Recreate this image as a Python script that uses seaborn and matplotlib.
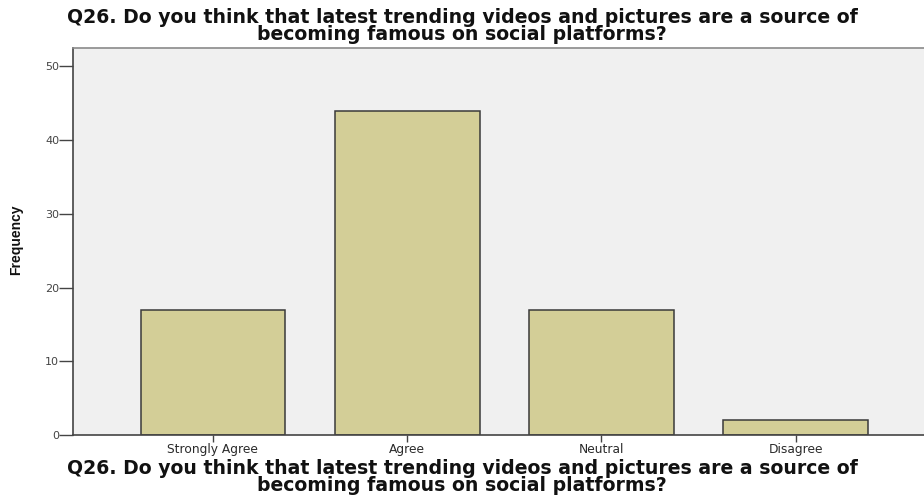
import numpy as np
import pandas as pd
import matplotlib
matplotlib.use("Agg")
import matplotlib.pyplot as plt
import seaborn as sns

question = "Q26. Do you think that latest trending videos and pictures are a source of\nbecoming famous on social platforms?"
categories = ["Strongly Agree", "Agree", "Neutral", "Disagree"]
frequency = [17, 44, 17, 2]
y_ticks = [0, 10, 20, 30, 40, 50]

df = pd.DataFrame({"answer": categories, "count": frequency})

sns.set_style("white")
plt.rcParams['font.family'] = ['DejaVu Sans']

W, H = 924, 496
fig = plt.figure(figsize=(W / 100, H / 100), dpi=100)
# axes box in pixels: left 73, top 48, bottom 435, runs off the right edge
ax = fig.add_axes([73 / W, (H - 435) / H, 1 - 73 / W, (435 - 48) / H])
ax.set_facecolor("#f0f0f0")

sns.barplot(data=df, x="answer", y="count", color="#d3ce97", width=0.745,
            edgecolor="#3a3a3a", linewidth=1.1, saturation=1, ax=ax)

ax.set_xlim(-0.72, 3.66)
ax.set_ylim(0, 52.5)
ax.set_yticks(y_ticks)
ax.tick_params(axis="y", length=10, width=1, color="#444444", labelsize=8,
               labelcolor="#444444", left=True, pad=0)
ax.tick_params(axis="x", length=5, width=1, color="#444444", labelsize=8.8,
               labelcolor="#2a2a2a", bottom=True, pad=0.5)

for side in ["left", "bottom"]:
    ax.spines[side].set_color("#444444")
    ax.spines[side].set_linewidth(1.2)
ax.spines["top"].set_color("#8a8a8a")
ax.spines["top"].set_linewidth(1.2)
ax.spines["right"].set_visible(False)

ax.set_ylabel("Frequency", fontsize=10, fontweight="bold",
              family="Liberation Sans", color="#111111")
ax.yaxis.set_label_coords(-50 / 851, 0.505)
ax.set_xlabel("")

# title and bottom caption are centred on the figure, not the axes
fig.text(0.5, 1 - 8 / H, question, ha="center", va="top",
         fontsize=13.6, fontweight="bold", linespacing=0.88, color="#111111")
fig.text(0.5, 1 - 459 / H, question, ha="center", va="top",
         fontsize=13.6, fontweight="bold", linespacing=0.88, color="#111111")

fig.savefig("out.png", dpi=100)
